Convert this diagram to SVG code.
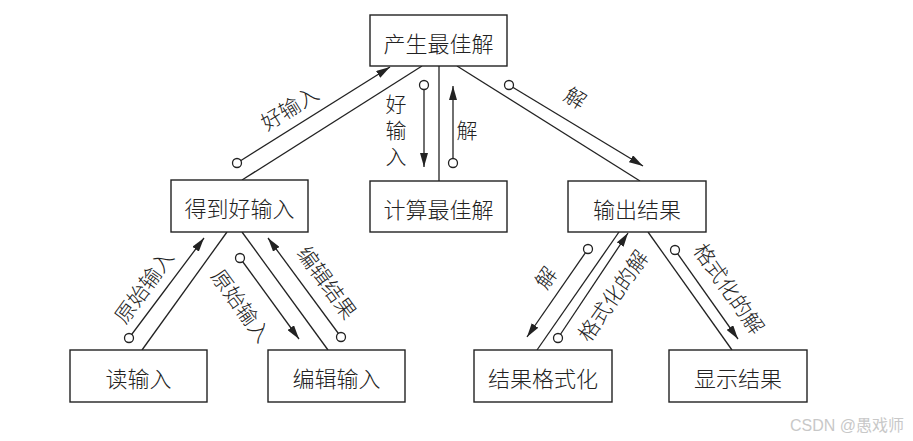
<svg xmlns="http://www.w3.org/2000/svg" width="913" height="441" viewBox="0 0 913 441">
<defs>
<style>
.box rect{fill:#fff;stroke:#222;stroke-width:1.4}
.box text,.lbl{font-family:"Noto Sans CJK SC","Noto Sans",sans-serif;font-size:22px;font-weight:300;fill:#222;text-anchor:middle;dominant-baseline:central}
.lbl{font-size:21px}
.vt{writing-mode:vertical-rl;letter-spacing:5px;dominant-baseline:auto}
.ln{stroke:#222;stroke-width:1.3;fill:none}
.ar{stroke:#222;stroke-width:1.3;fill:none;marker-end:url(#ah)}
.dot{fill:#fff;stroke:#222;stroke-width:1.3}
.wm{font-family:"Liberation Sans","Noto Sans CJK SC",sans-serif;font-size:16px;fill:#c8c8c8}
</style>
<marker id="ah" viewBox="0 0 14 8" refX="14" refY="4" markerWidth="14" markerHeight="8" orient="auto" markerUnits="userSpaceOnUse"><path d="M0,0 L14,4 L0,8 z" fill="#222"/></marker>
</defs>
<rect width="913" height="441" fill="#fff"/>
<g id="connectors">
<line class="ln" x1="422" y1="66" x2="242" y2="180"/>
<line class="ar" x1="237" y1="163" x2="390" y2="67"/>
<circle class="dot" cx="237" cy="163" r="4.5"/>
<line class="ln" x1="439" y1="66" x2="439" y2="182"/>
<line class="ar" x1="424" y1="85" x2="424" y2="167"/>
<circle class="dot" cx="424" cy="85" r="4.5"/>
<line class="ar" x1="453" y1="163" x2="453" y2="86"/>
<circle class="dot" cx="453" cy="163" r="4.5"/>
<line class="ln" x1="457" y1="66" x2="640" y2="181"/>
<line class="ar" x1="509" y1="85" x2="643" y2="166"/>
<circle class="dot" cx="509" cy="85" r="4.5"/>
<line class="ln" x1="227" y1="232" x2="142" y2="350"/>
<line class="ar" x1="129" y1="338" x2="204" y2="238"/>
<circle class="dot" cx="129" cy="338" r="4.5"/>
<line class="ln" x1="242" y1="232" x2="328" y2="350"/>
<line class="ar" x1="240" y1="258" x2="299" y2="339"/>
<circle class="dot" cx="240" cy="258" r="4.5"/>
<line class="ar" x1="341" y1="337" x2="268" y2="238"/>
<circle class="dot" cx="341" cy="337" r="4.5"/>
<line class="ln" x1="619" y1="232" x2="537" y2="350"/>
<line class="ar" x1="588" y1="249" x2="527" y2="337"/>
<circle class="dot" cx="588" cy="249" r="4.5"/>
<line class="ar" x1="558" y1="338" x2="628" y2="233"/>
<circle class="dot" cx="558" cy="338" r="4.5"/>
<line class="ln" x1="648" y1="232" x2="732" y2="350"/>
<line class="ar" x1="675" y1="250" x2="738" y2="339"/>
<circle class="dot" cx="675" cy="250" r="4.5"/>
<text class="lbl" transform="translate(289,107) rotate(-32)">好输入</text>
<text class="lbl vt" x="396" y="133">好输入</text>
<text class="lbl" x="467" y="129">解</text>
<text class="lbl" transform="translate(576,97) rotate(32)">解</text>
<text class="lbl" transform="translate(143,286) rotate(-54)">原始输入</text>
<text class="lbl" transform="translate(242,305) rotate(54)">原始输入</text>
<text class="lbl" transform="translate(328,282) rotate(54)">编辑结果</text>
<text class="lbl" transform="translate(545,277) rotate(-55)">解</text>
<text class="lbl" transform="translate(612,295) rotate(-55)">格式化的解</text>
<text class="lbl" transform="translate(730,288) rotate(55)">格式化的解</text>
</g>
<g id="n1" class="box"><rect x="370" y="15" width="137" height="51"/><text x="438.5" y="42">产生最佳解</text></g>
<g id="n2" class="box"><rect x="171" y="180" width="137" height="52"/><text x="239.5" y="207">得到好输入</text></g>
<g id="n3" class="box"><rect x="370" y="181" width="137" height="51"/><text x="438.5" y="208">计算最佳解</text></g>
<g id="n4" class="box"><rect x="568" y="181" width="138" height="51"/><text x="637" y="208">输出结果</text></g>
<g id="n5" class="box"><rect x="70" y="350" width="137" height="52"/><text x="138.5" y="377">读输入</text></g>
<g id="n6" class="box"><rect x="268" y="350" width="137" height="52"/><text x="336.5" y="377">编辑输入</text></g>
<g id="n7" class="box"><rect x="474" y="350" width="138" height="52"/><text x="543" y="377">结果格式化</text></g>
<g id="n8" class="box"><rect x="669" y="350" width="138" height="52"/><text x="738" y="377">显示结果</text></g>
<text class="wm" x="790" y="431">CSDN @愚戏师</text>
</svg>
